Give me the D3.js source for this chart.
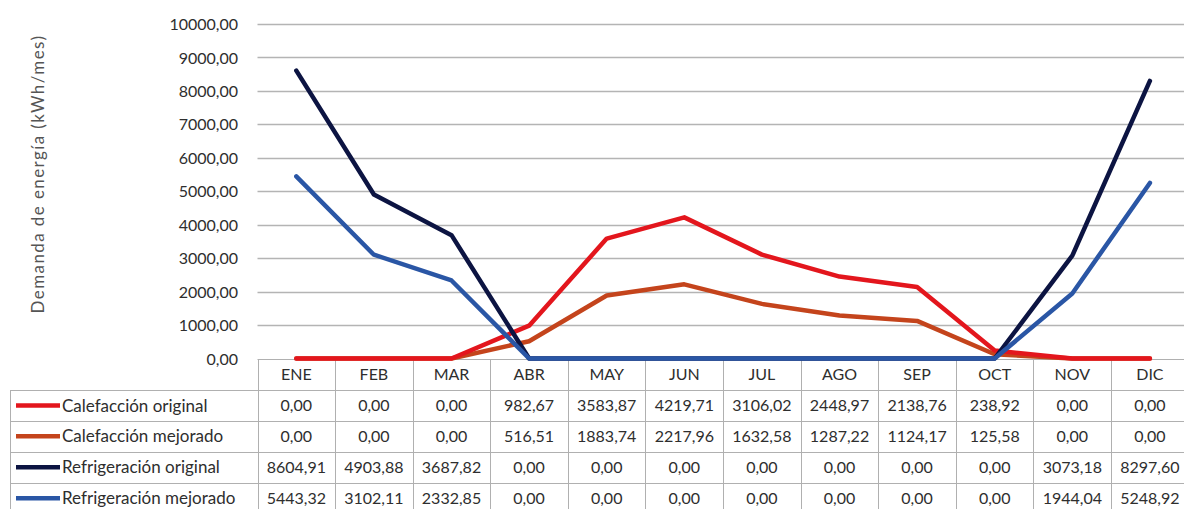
<!DOCTYPE html>
<html><head><meta charset="utf-8">
<script src="https://cdn.jsdelivr.net/npm/d3@7"></script>
<style>
html,body{margin:0;padding:0;background:#fff;}
svg{display:block;}
</style></head>
<body>
<svg id="chart" width="1184" height="509"></svg>
<script>
const months = ["ENE","FEB","MAR","ABR","MAY","JUN","JUL","AGO","SEP","OCT","NOV","DIC"];
const calefaccionOriginal = [0,0,0,982.67,3583.87,4219.71,3106.02,2448.97,2138.76,238.92,0,0];
const calefaccionMejorado = [0,0,0,516.51,1883.74,2217.96,1632.58,1287.22,1124.17,125.58,0,0];
const refrigeracionOriginal = [8604.91,4903.88,3687.82,0,0,0,0,0,0,0,3073.18,8297.60];
const refrigeracionMejorado = [5443.32,3102.11,2332.85,0,0,0,0,0,0,0,1944.04,5248.92];
const seriesNames = ["Calefacción original","Calefacción mejorado","Refrigeración original","Refrigeración mejorado"];
const seriesColors = ["#e3161d","#c4441c","#0c1442","#2a56a5"];
const yTicks = [0,1000,2000,3000,4000,5000,6000,7000,8000,9000,10000];
const yTitle = "Demanda de energía (kWh/mes)";

const seriesValues = [calefaccionOriginal, calefaccionMejorado, refrigeracionOriginal, refrigeracionMejorado];
const series = seriesNames.map((n,i)=>({name:n, values:seriesValues[i], color:seriesColors[i]}));

const svg = d3.select("#chart");
const fmt = v => d3.format(".2f")(v).replace(".", ",");
const font = "Lato, 'Open Sans', sans-serif";
const textColor = "#2e2e2e";

const x = d3.scaleBand().domain(months).range([257.5, 257.5 + 12*77.6]).padding(0);
const y = d3.scaleLinear().domain([0,10000]).range([358.5, 24]);

// gridlines
svg.append("g").selectAll("line").data(yTicks.filter(d=>d>0)).join("line")
  .attr("x1", 257.5).attr("x2", 1184)
  .attr("y1", d=>Math.round(y(d))+0.5).attr("y2", d=>Math.round(y(d))+0.5)
  .attr("stroke", "#b4b4b4").attr("stroke-width", 1.3);

// y axis labels
const yAxis = d3.axisLeft(y).tickValues(yTicks).tickFormat(fmt).tickSize(0).tickPadding(0);
const ya = svg.append("g").attr("transform","translate(238,0)").call(yAxis);
ya.select(".domain").remove();
ya.selectAll("text").attr("font-family", font).attr("font-size", 16).attr("fill", textColor).attr("dy","0.35em");

// y title
svg.append("text")
  .attr("transform", "translate(44,174) rotate(-90)")
  .attr("text-anchor","middle")
  .attr("font-family", font).attr("font-size", 17).attr("letter-spacing", 1.4)
  .attr("fill","#555555")
  .text(yTitle);

// table
const rowH = 30.9;
const tableTop = 359;
const headerBottom = 390;
const tbl = svg.append("g");
const gridColor = "#b0b0b0";
const colLefts = months.map(m=>x(m));
const rightEdge = x.range()[1];
const tableBottom = headerBottom + 4*rowH;
tbl.append("line").attr("x1",257.5).attr("x2",rightEdge).attr("y1",tableTop+0.5).attr("y2",tableTop+0.5).attr("stroke",gridColor);
for (let r=0;r<=4;r++){
  const yy = Math.round(headerBottom + r*rowH)+0.5;
  tbl.append("line").attr("x1",10).attr("x2",rightEdge).attr("y1",yy).attr("y2",yy).attr("stroke",gridColor);
}
tbl.append("line").attr("x1",10.5).attr("x2",10.5).attr("y1",headerBottom).attr("y2",tableBottom).attr("stroke",gridColor);
colLefts.concat([rightEdge]).forEach(cx=>{
  tbl.append("line").attr("x1",Math.round(cx)+0.5).attr("x2",Math.round(cx)+0.5).attr("y1",tableTop).attr("y2",tableBottom).attr("stroke",gridColor);
});
tbl.append("g").selectAll("text").data(months).join("text")
  .attr("x", m=>x(m)+x.bandwidth()/2).attr("y", (tableTop+headerBottom)/2).attr("dy","0.36em")
  .attr("text-anchor","middle").attr("font-family",font).attr("font-size",16).attr("fill",textColor)
  .text(m=>m);
series.forEach((s,r)=>{
  const cy = headerBottom + r*rowH + rowH/2;
  tbl.append("line").attr("x1",16).attr("x2",60).attr("y1",cy).attr("y2",cy)
    .attr("stroke",s.color).attr("stroke-width",4.5);
  tbl.append("text").attr("x",62).attr("y",cy).attr("dy","0.36em")
    .attr("font-family",font).attr("font-size",17).attr("fill",textColor).text(s.name);
  tbl.append("g").selectAll("text").data(s.values).join("text")
    .attr("x",(v,i)=>x(months[i])+x.bandwidth()/2).attr("y",cy).attr("dy","0.36em")
    .attr("text-anchor","middle").attr("font-family",font).attr("font-size",16).attr("fill",textColor)
    .text(v=>fmt(v));
});

// lines
const line = d3.line().x((d,i)=>x(months[i])+x.bandwidth()/2).y(d=>y(d));
const drawOrder = [1,0,2,3];
svg.append("g").selectAll("path").data(drawOrder.map(i=>series[i])).join("path")
  .attr("d", s=>line(s.values))
  .attr("fill","none").attr("stroke",s=>s.color).attr("stroke-width",4.5)
  .attr("stroke-linejoin","round").attr("stroke-linecap","round");
</script>
</body></html>
